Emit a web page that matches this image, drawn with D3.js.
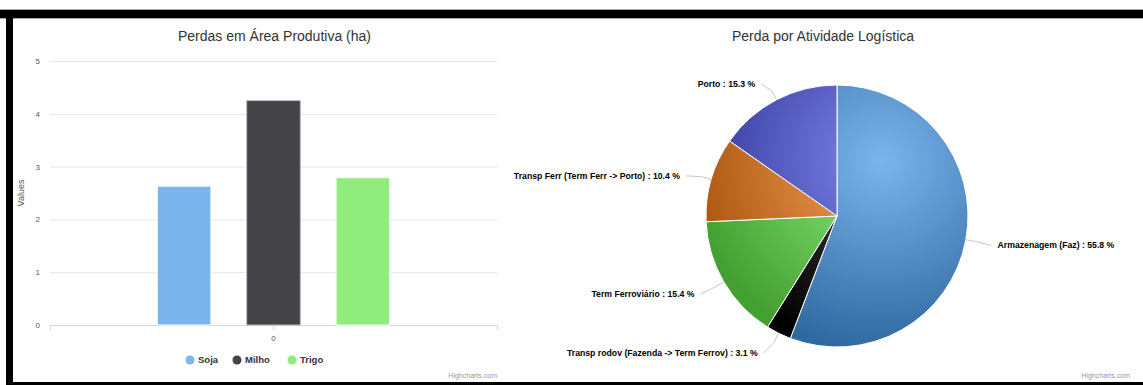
<!DOCTYPE html>
<html>
<head>
<meta charset="utf-8">
<script src="https://cdn.jsdelivr.net/npm/d3@7"></script>
<style>
  body { margin: 0; background: #fff; }
  svg { display: block; font-family: "Liberation Sans", Arial, sans-serif; }
</style>
</head>
<body>
<div id="chart"></div>
<script>
// bar chart data
var barCategories = ["0"];
var barSeries = ["Soja", "Milho", "Trigo"];
var barValues = [2.63, 4.25, 2.79];
var barColors = ["#7cb5ec", "#434348", "#90ed7d"];
var yTicks = [0, 1, 2, 3, 4, 5];

// pie chart data
var pieLabels = ["Armazenagem (Faz)", "Transp rodov (Fazenda -> Term Ferrov)", "Term Ferroviário", "Transp Ferr (Term Ferr -> Porto)", "Porto"];
var pieValues = [55.8, 3.1, 15.4, 10.4, 15.3];
var pieColors = ["#7cb5ec", "#434348", "#90ed7d", "#f7a35c", "#8085e9"];

var svgWidth = 1143;
var svgHeight = 385;

var svg = d3.select("#chart")
  .append("svg")
  .attr("width", svgWidth)
  .attr("height", svgHeight);

// black frame round the screenshot
svg.append("rect").attr("x", 0).attr("y", 9).attr("width", svgWidth).attr("height", 10).attr("fill", "#aaa");
svg.append("rect").attr("x", 0).attr("y", 10).attr("width", svgWidth).attr("height", 8).attr("fill", "#000");
svg.append("rect").attr("x", 6).attr("y", 10).attr("width", 7).attr("height", svgHeight - 10).attr("fill", "#000");
svg.append("rect").attr("x", 6).attr("y", 382).attr("width", svgWidth - 6).attr("height", 3).attr("fill", "#000");

// ---------- bar chart ----------
var plot = { left: 50, right: 497, top: 61, bottom: 325 };

var yScale = d3.scaleLinear()
  .domain([0, 5])
  .range([plot.bottom, plot.top]);

var xCat = d3.scaleBand()
  .domain(barCategories)
  .range([plot.left, plot.right]);

var groupPad = xCat.bandwidth() * 0.2;
var xSeries = d3.scaleBand()
  .domain(barSeries)
  .range([xCat("0") + groupPad, xCat("0") + xCat.bandwidth() - groupPad])
  .paddingInner(0.4)
  .paddingOuter(0.2);

svg.append("text")
  .attr("x", (plot.left + plot.right) / 2 + 1)
  .attr("y", 41)
  .attr("text-anchor", "middle")
  .attr("fill", "#333")
  .style("font-size", "14px")
  .text("Perdas em Área Produtiva (ha)");

var yAxis = svg.append("g")
  .attr("transform", `translate(${plot.left}, 0)`)
  .call(d3.axisLeft(yScale).tickValues(yTicks).tickSize(-(plot.right - plot.left)).tickPadding(10).tickFormat(d3.format("d")));
yAxis.select(".domain").remove();
yAxis.selectAll(".tick line").attr("stroke", "#e6e6e6");
yAxis.selectAll(".tick text").attr("fill", "#555").style("font-size", "8px").attr("dy", "0.3em");

svg.append("text")
  .attr("transform", "translate(24, 193) rotate(-90)")
  .attr("text-anchor", "middle")
  .attr("fill", "#555")
  .style("font-size", "9px")
  .text("Values");

var xAxis = svg.append("g")
  .attr("transform", `translate(0, ${plot.bottom})`)
  .call(d3.axisBottom(xCat).tickSize(5).tickPadding(5));
xAxis.select(".domain").attr("stroke", "#ccd6eb");
xAxis.selectAll(".tick line").attr("stroke", "#ccd6eb");
xAxis.selectAll(".tick text").attr("fill", "#555").style("font-size", "8px");

svg.append("g").selectAll("rect")
  .data(barValues)
  .enter()
  .append("rect")
  .attr("x", (d, i) => xSeries(barSeries[i]))
  .attr("y", d => yScale(d))
  .attr("width", xSeries.bandwidth())
  .attr("height", d => plot.bottom - yScale(d))
  .attr("fill", (d, i) => barColors[i])
  .attr("stroke", (d, i) => i === 1 ? "#bbb" : "#fff")
  .attr("stroke-width", 1);

// legend
var legendX = [190, 237, 292];
var legend = svg.append("g").selectAll("g")
  .data(barSeries)
  .enter()
  .append("g")
  .attr("transform", (d, i) => `translate(${legendX[i]}, 360)`);
legend.append("circle").attr("r", 4.5).attr("fill", (d, i) => barColors[i]);
legend.append("text")
  .attr("x", 8)
  .attr("dy", "0.35em")
  .attr("fill", "#333")
  .style("font-size", "9.5px")
  .style("font-weight", "bold")
  .text(d => d);

svg.append("text")
  .attr("x", 497).attr("y", 378)
  .attr("text-anchor", "end")
  .attr("fill", "#999")
  .style("font-size", "7px")
  .text("Highcharts.com");

// ---------- pie chart ----------
var cx = 837, cy = 216, radius = 131;

svg.append("text")
  .attr("x", 823)
  .attr("y", 41)
  .attr("text-anchor", "middle")
  .attr("fill", "#333")
  .style("font-size", "14px")
  .text("Perda por Atividade Logística");

// one radial gradient per colour, spread over the whole pie
// (coordinates relative to the pie centre, since slices live in a translated group)
var defs = svg.append("defs");
pieColors.forEach(function(c, i) {
  var base = d3.rgb(c);
  var dark = d3.rgb(Math.max(0, base.r - 76), Math.max(0, base.g - 76), Math.max(0, base.b - 76));
  var grad = defs.append("radialGradient")
    .attr("id", "pg" + i)
    .attr("gradientUnits", "userSpaceOnUse")
    .attr("cx", 45).attr("cy", -55).attr("r", radius * 1.45);
  grad.append("stop").attr("offset", 0).attr("stop-color", base.formatHex());
  grad.append("stop").attr("offset", 1).attr("stop-color", dark.formatHex());
});

var pie = d3.pie().sort(null).value(d => d);
var arcs = pie(pieValues);
var arc = d3.arc().innerRadius(0).outerRadius(radius);

var pieGroup = svg.append("g").attr("transform", `translate(${cx}, ${cy})`);

pieGroup.selectAll("path.slice")
  .data(arcs)
  .enter()
  .append("path")
  .attr("class", "slice")
  .attr("d", arc)
  .attr("fill", (d, i) => `url(#pg${i})`)
  .attr("stroke", "#fff")
  .attr("stroke-width", 1)
  .attr("stroke-linejoin", "round");

// labels with connectors
function polar(a, r) {
  return [r * Math.sin(a), -r * Math.cos(a)];
}
arcs.forEach(function(d, i) {
  var mid = (d.startAngle + d.endAngle) / 2;
  var right = Math.sin(mid) > 0;
  var edge = polar(mid, radius);
  var bend = polar(mid, radius + 10);
  var anchor = polar(mid, radius + 20);
  var side = right ? 1 : -1;
  var ly = anchor[1] + 2;
  var end = [anchor[0] + side * 6, ly];

  pieGroup.append("path")
    .attr("d", `M${edge[0]},${edge[1]} L${bend[0]},${bend[1]} L${end[0]},${end[1]}`)
    .attr("fill", "none")
    .attr("stroke", "#c8c8c8")
    .attr("stroke-width", 1);

  pieGroup.append("text")
    .attr("x", anchor[0] + side * 12)
    .attr("y", ly)
    .attr("dy", "0.35em")
    .attr("text-anchor", right ? "start" : "end")
    .attr("fill", "#000")
    .style("font-size", "8.7px")
    .style("font-weight", "bold")
    .text(pieLabels[i] + " : " + pieValues[i].toFixed(1) + " %");
});

svg.append("text")
  .attr("x", 1130).attr("y", 378)
  .attr("text-anchor", "end")
  .attr("fill", "#999")
  .style("font-size", "7px")
  .text("Highcharts.com");
</script>
</body>
</html>
